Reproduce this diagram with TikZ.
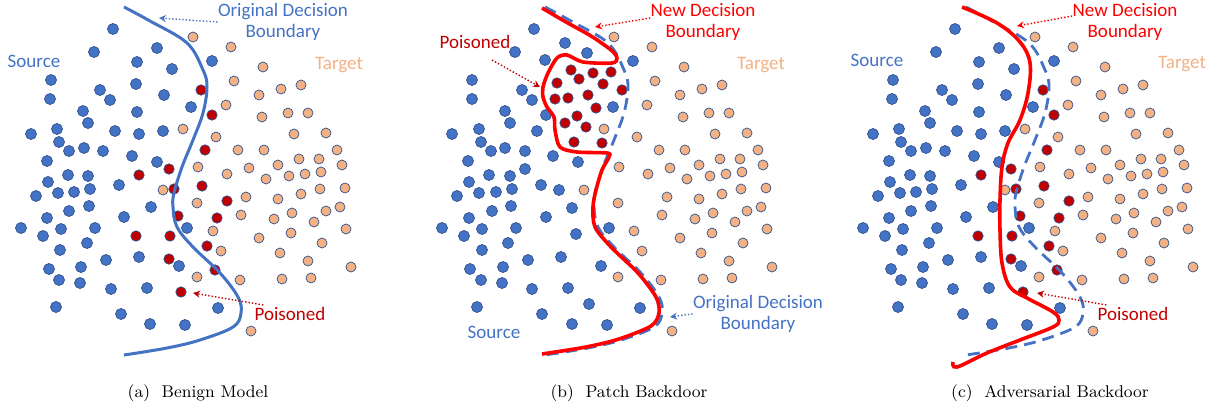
\documentclass[tikz,border=0pt]{standalone}
\usepackage{fontspec}
\usetikzlibrary{arrows.meta}
\newfontfamily\calibri{Carlito}

\definecolor{srcblue}{HTML}{4472C4}
\definecolor{dotedge}{HTML}{2F528F}
\definecolor{tgtorange}{HTML}{F4B183}
\definecolor{poired}{HTML}{C00000}
\definecolor{newred}{HTML}{FF0000}

% Điểm dữ liệu (a) và (c)
\newcommand\srcA{113/29, 94/52, 157/48, 137/62, 172/69, 212/61, 51/80, 50/99, 100/90, 110/100, 136/84, 164/95, 83/111, 88/123, 137/112, 191/107, 31/134, 57/129, 59/142, 69/151, 84/148, 103/151, 115/131, 139/134, 163/131, 47/161, 132/156, 157/162, 68/175, 88/176, 48/182, 119/185, 36/196, 58/193, 74/192, 90/189, 89/206, 69/211, 47/218, 124/217, 151/207, 21/228, 43/236, 61/229, 95/228, 187/228, 60/250, 87/243, 106/260, 139/257, 179/266, 49/269, 81/267, 59/280, 80/283, 111/289, 147/288, 56/307, 121/314, 150/324, 185/325, 218/308}
\newcommand\poiA{201/90, 212/115, 205/150, 169/169, 139/175, 174/189, 202/186, 227/201, 178/216, 217/218, 136/236, 170/236, 207/246, 169/259, 215/270, 181/292}
% Điểm dữ liệu (b)
\newcommand\srcB{113/29, 94/52, 144/43, 166/53, 124/60, 212/61, 51/80, 51/99, 101/90, 111/100, 84/111, 89/123, 125/115, 192/107, 31/134, 58/129, 60/142, 70/151, 84/148, 104/151, 116/131, 132/156, 157/162, 47/161, 104/169, 68/175, 89/176, 48/182, 120/185, 138/190, 36/196, 58/193, 75/192, 91/189, 48/218, 71/211, 90/206, 125/217, 151/208, 21/228, 43/236, 61/229, 95/228, 155/234, 188/228, 61/250, 87/243, 107/260, 140/257, 180/266, 49/269, 82/267, 60/280, 81/283, 111/289, 147/288, 56/307, 121/314, 151/324, 186/325, 168/304, 219/308}
\newcommand\poiB{150/70, 172/73, 190/72, 158/79, 182/84, 136/83, 201/90, 134/99, 147/98, 167/95, 175/108, 156/116, 144/123, 165/127, 153/142, 181/143}
% Điểm đích (chung)
\newcommand\tgtAll{193/37, 231/47, 263/67, 234/81, 281/89, 301/85, 259/95, 226/105, 262/117, 288/113, 308/113, 183/129, 216/137, 294/134, 326/133, 238/150, 264/150, 299/159, 319/159, 337/150, 198/167, 249/168, 278/165, 342/165, 227/174, 266/179, 289/176, 305/174, 321/172, 163/190, 246/197, 301/194, 320/189, 345/188, 278/199, 197/203, 241/215, 274/219, 292/213, 326/211, 340/207, 213/231, 314/222, 346/229, 259/238, 291/233, 221/251, 280/253, 322/243, 308/261, 197/277, 240/280, 282/279, 311/278, 351/267, 251/331}
% Biên quyết định ban đầu
\newcommand\oldBound{(124,7) (150,21) (187,43) (203,70) (207,87) (203,113) (193,140) (182,167) (174,193) (173,207) (177,227) (193,247) (220,273) (238,297) (241,313) (233,327) (200,340) (167,348) (124,355)}

\begin{document}
\begin{tikzpicture}[x=0.5pt, y=-0.5pt,
  srcdot/.style={fill=srcblue, draw=dotedge, line width=0.35pt},
  tgtdot/.style={fill=tgtorange, draw=dotedge, line width=0.35pt},
  poidot/.style={fill=poired, draw=dotedge, line width=0.35pt},
  oldline/.style={srcblue, line width=1.5pt},
  newline/.style={newred, line width=1.8pt},
  lbl/.style={font=\calibri\fontsize{9.5}{10.5}\selectfont, align=center, inner sep=0pt},
  captxt/.style={font=\fontsize{8.5}{10}\selectfont, inner sep=0pt},
  hint/.style={densely dotted, line width=0.7pt, -{Stealth[length=3.5pt, width=3.5pt]}}]

  \useasboundingbox (0,0) rectangle (1215,413);

  % (a) Benign Model
  \foreach \x/\y in \tgtAll {\filldraw[tgtdot] (\x,\y) circle[radius=2.5pt];}
  \foreach \x/\y in \srcA {\filldraw[srcdot] (\x,\y) circle[radius=2.75pt];}
  \foreach \x/\y in \poiA {\filldraw[poidot] (\x,\y) circle[radius=2.6pt];}
  \draw[oldline] plot[smooth, tension=0.6] coordinates {\oldBound};
  \node[lbl, text=srcblue] (origA) at (283,22) {Original Decision\\Boundary};
  \node[lbl, text=srcblue] (srcA) at (34,61) {Source};
  \node[lbl, text=tgtorange] (tgtA) at (339,65) {Target};
  \node[lbl, text=poired] (poiA) at (290,314) {Poisoned};
  \coordinate (origAtip) at (159,18);
  \coordinate (poiAtip) at (193,293);
  \draw[hint, srcblue] (origA.west) -- (origAtip);
  \draw[hint, poired] (poiA.north west) ++(9,-2) -- (poiAtip);
  \node[captxt] (capA) at (198,393) {(a)\ \ Benign Model};

  % (b) Patch Backdoor
  \begin{scope}[shift={(421,0)}]
    \foreach \x/\y in \tgtAll {\filldraw[tgtdot] (\x,\y) circle[radius=2.5pt];}
    \foreach \x/\y in \srcB {\filldraw[srcdot] (\x,\y) circle[radius=2.75pt];}
    \foreach \x/\y in \poiB {\filldraw[poidot] (\x,\y) circle[radius=2.6pt];}
    \draw[oldline, dash pattern=on 6pt off 3.5pt, line width=1.4pt] plot[smooth, tension=0.6] coordinates {\oldBound};
    \draw[newline] plot[smooth, tension=0.5] coordinates {(121,8) (145,22) (170,36) (190,50) (196,58) (191,63) (162,62) (146,55) (136,58) (127,73) (122,87) (122,97) (126,107) (133,117) (134,130) (139,147) (156,152) (186,153) (188,157) (181,170) (175,190) (172,207) (174,227) (190,247) (217,273) (235,297) (238,313) (230,326) (198,339) (165,347) (121,354)};
    \node[lbl, text=newred] (newB) at (282,22) {New Decision\\Boundary};
    \node[lbl, text=poired] (poiB) at (54,42) {Poisoned};
    \node[lbl, text=tgtorange] (tgtB) at (340,65) {Target};
    \node[lbl, text=srcblue] (srcB) at (73,332) {Source};
    \node[lbl, text=srcblue] (origB) at (337,314) {Original Decision\\Boundary};
    \coordinate (newBtip) at (174,27);
    \coordinate (poiBtip) at (119,87);
    \coordinate (origBtip) at (249,317);
    \draw[hint, newred] (newB.west) ++(0,-4) -- (newBtip);
    \draw[hint, poired] (poiB.south) ++(17,11) -- (poiBtip);
    \draw[hint, srcblue] (origB.west) -- (origBtip);
    \node[captxt] (capB) at (208,393) {(b)\ \ Patch Backdoor};
  \end{scope}

  % (c) Adversarial Backdoor
  \begin{scope}[shift={(842,0)}]
    \foreach \x/\y in \tgtAll {\filldraw[tgtdot] (\x,\y) circle[radius=2.5pt];}
    \foreach \x/\y in \srcA {\filldraw[srcdot] (\x,\y) circle[radius=2.75pt];}
    \foreach \x/\y in \poiA {\filldraw[poidot] (\x,\y) circle[radius=2.6pt];}
    \draw[oldline, dash pattern=on 6pt off 3.5pt, line width=1.4pt] plot[smooth, tension=0.6] coordinates {\oldBound};
    \draw[newline] plot[smooth, tension=0.6] coordinates {(120,7) (155,23) (178,42) (188,63) (186,93) (178,120) (166,143) (160,167) (158,200) (158,230) (160,263) (168,287) (185,298) (211,312) (217,320) (211,327) (178,340) (145,353) (115,367) (111,362)};
    \node[lbl, text=newred] (newC) at (283,22) {New Decision\\Boundary};
    \node[lbl, text=srcblue] (srcC) at (35,60) {Source};
    \node[lbl, text=tgtorange] (tgtC) at (340,64) {Target};
    \node[lbl, text=poired] (poiC) at (291,314) {Poisoned};
    \coordinate (newCtip) at (175,26);
    \coordinate (poiCtip) at (195,293);
    \draw[hint, newred] (newC.west) ++(0,-6) -- (newCtip);
    \draw[hint, poired] (poiC.north west) ++(9,-2) -- (poiCtip);
    \node[captxt] (capC) at (208,393) {(c)\ \ Adversarial Backdoor};
  \end{scope}
\end{tikzpicture}
\end{document}
